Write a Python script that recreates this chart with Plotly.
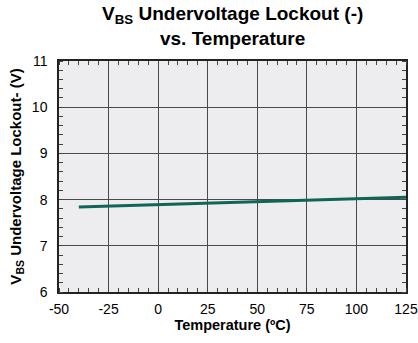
import plotly.graph_objects as go

# Data
temperature = [-40, 125]
vbs_uv_minus = [7.84, 8.05]

x_ticks = [-50, -25, 0, 25, 50, 75, 100, 125]
y_ticks = [6, 7, 8, 9, 10, 11]

FONT = "Liberation Sans, Arial, sans-serif"

fig = go.Figure()
fig.add_trace(
    go.Scatter(
        x=temperature,
        y=vbs_uv_minus,
        mode="lines",
        line=dict(color="#0f6656", width=3),
        showlegend=False,
    )
)

fig.update_layout(
    width=418,
    height=343,
    margin=dict(l=59, r=12, t=61, b=51),
    paper_bgcolor="white",
    plot_bgcolor="#ededef",
    font=dict(family=FONT, size=14, color="black"),
)

# title as an annotation so the two lines sit where they should
fig.add_annotation(
    text="<b>V<sub>BS</sub> Undervoltage Lockout (-)<br>vs. Temperature</b>",
    xref="paper",
    yref="paper",
    x=0.5,
    y=1.26,
    xanchor="center",
    yanchor="top",
    showarrow=False,
    font=dict(size=19, family=FONT),
)

common = dict(
    showline=True,
    linecolor="#222",
    linewidth=1.5,
    mirror="ticks",
    showgrid=True,
    gridcolor="#4a4a4a",
    gridwidth=1.3,
    zeroline=False,
    ticks="",
    automargin=False,
    tickfont=dict(size=14),
)

fig.update_xaxes(
    range=[-50, 125],
    tickvals=x_ticks,
    ticktext=[str(v) for v in x_ticks],
    ticklabelstandoff=3,
    title=dict(text="<b>Temperature (ºC)</b>", font=dict(size=14.5), standoff=3),
    minor=dict(dtick=5, ticks="inside", ticklen=4, tickcolor="#444", showgrid=False),
    **common,
)
fig.update_yaxes(
    range=[6, 11],
    tickvals=y_ticks,
    ticktext=[str(v) for v in y_ticks],
    ticklabelstandoff=7,
    title=dict(text="<b>V<sub>BS</sub> Undervoltage Lockout- (V)</b>", font=dict(size=15), standoff=7),
    minor=dict(dtick=0.2, ticks="inside", ticklen=4, tickcolor="#444", showgrid=False),
    **common,
)

fig.write_html(
    "out.html",
    config={"displayModeBar": False},
    post_script="document.body.style.margin='0';",
)
